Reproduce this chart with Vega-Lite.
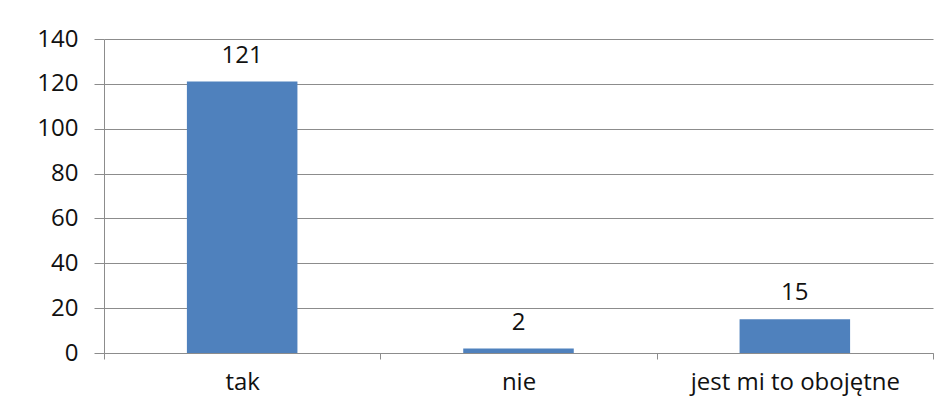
{
  "$schema": "https://vega.github.io/schema/vega-lite/v6.json",
  "autosize": "none",
  "width": 829,
  "height": 314,
  "padding": {"left": 104, "top": 39, "right": 10, "bottom": 60},
  "background": "white",
  "config": {
    "view": {"stroke": null},
    "font": "Open Sans"
  },
  "data": {
    "values": [
      {"odp": "tak", "n": 121},
      {"odp": "nie", "n": 2},
      {"odp": "jest mi to obojętne", "n": 15}
    ]
  },
  "encoding": {
    "x": {
      "field": "odp",
      "type": "nominal",
      "sort": null,
      "scale": {"paddingInner": 0, "paddingOuter": 0},
      "axis": {
        "title": null,
        "labelAngle": 0,
        "labelFontSize": 24,
        "labelColor": "#111111",
        "labelFont": "Open Sans",
        "labelPadding": 11,
        "labelLimit": 0,
        "tickBand": "extent",
        "tickSize": 6,
        "tickColor": "#8c8c8c",
        "domainColor": "#8c8c8c",
        "grid": false
      }
    },
    "y": {
      "field": "n",
      "type": "quantitative",
      "scale": {"domain": [0, 140], "nice": false},
      "axis": {
        "title": null,
        "values": [0, 20, 40, 60, 80, 100, 120, 140],
        "labelFontSize": 24,
        "labelColor": "#111111",
        "labelFont": "Open Sans",
        "labelPadding": 16,
        "tickSize": 10,
        "tickColor": "#8c8c8c",
        "domainColor": "#8c8c8c",
        "gridColor": "#8c8c8c",
        "gridOpacity": 1,
        "grid": true
      }
    }
  },
  "layer": [
    {
      "mark": {"type": "bar", "color": "#4f81bd", "width": {"band": 0.4}}
    },
    {
      "mark": {"type": "text", "baseline": "alphabetic", "dy": -19, "fontSize": 24, "font": "Open Sans", "color": "#111111"},
      "encoding": {"text": {"field": "n", "type": "quantitative"}}
    }
  ]
}
